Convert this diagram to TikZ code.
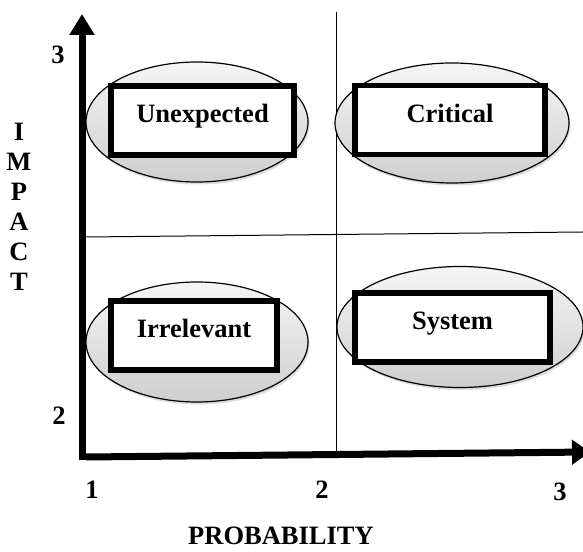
\documentclass[tikz,border=0pt]{standalone}
\usepackage{fontspec}
\setmainfont{Liberation Serif}
\usepackage{tikz}
\usetikzlibrary{positioning, shapes.geometric, arrows.meta, shadows}

\tikzset{
  riskzone/.style={ellipse, draw, line width=1.2pt, top color=gray!8, bottom color=gray!38, drop shadow={shadow xshift=1.5pt, shadow yshift=-2.5pt, fill=gray!55}, inner sep=0pt},
  riskbox/.style={rectangle, draw, line width=5.5pt, fill=white, inner xsep=0pt, inner ysep=0pt, text height=37pt, text depth=32pt, align=center},
  axislabel/.style={font=\fontsize{26.5}{30}\selectfont\bfseries, inner sep=0pt}
}

\begin{document}
\begin{tikzpicture}[x=1pt, y=1pt, font=\fontsize{26.5}{30}\selectfont\bfseries]
\useasboundingbox (0,0) rectangle (583,551);

% Axes end points
\coordinate (yfoot) at (82,91);
\coordinate (ytip) at (82,537);
\coordinate (xfoot) at (86,94);
\coordinate (xtip) at (590,99);

% Quadrant dividers
\coordinate (vtop) at (336,539);
\coordinate (vbot) at (336,98);
\coordinate (hleft) at (86,314);
\coordinate (hright) at (583,319);
\draw[line width=1pt] (vbot) -- (vtop);
\draw[line width=1pt] (hleft) -- (hright);

% Risk zones
\node[riskzone, minimum width=222pt, minimum height=120pt] (unexpzone) at (197,429) {};
\node[riskzone, minimum width=234pt, minimum height=120pt] (critzone) at (452,428) {};
\node[riskzone, minimum width=222pt, minimum height=120pt] (irrelzone) at (197,209) {};
\node[riskzone, minimum width=246pt, minimum height=121pt] (syszone) at (460,224) {};

% Labels in boxes
\node[riskbox, minimum width=183pt] (unexpected) at (202.5,430.5) {Unexpected};
\node[riskbox, minimum width=190pt] (critical) at (450,431) {Critical};
\node[riskbox, minimum width=166pt] (irrelevant) at (194,215.5) {Irrelevant};
\node[riskbox, minimum width=195pt] (system) at (452.5,223.5) {System};

% Axes
\draw[line width=7pt, -{Triangle[length=21pt, width=24pt]}] (yfoot) -- (ytip);
\draw[line width=7pt, -{Triangle[length=18pt, width=24pt]}] (xfoot) -- (xtip);

% Scale marks
\node[axislabel] (ythree) at (58,496) {3};
\node[axislabel] (ytwo) at (59,135) {2};
\node[axislabel] (xone) at (92,61) {1};
\node[axislabel] (xtwo) at (322,61) {2};
\node[axislabel] (xthree) at (560,59) {3};

% Axis titles
\node[axislabel, anchor=base] (probability) at (281,6) {PROBABILITY};
\node[axislabel, align=center] (impact) at (19,344) {I\\M\\P\\A\\C\\T};

\end{tikzpicture}
\end{document}
